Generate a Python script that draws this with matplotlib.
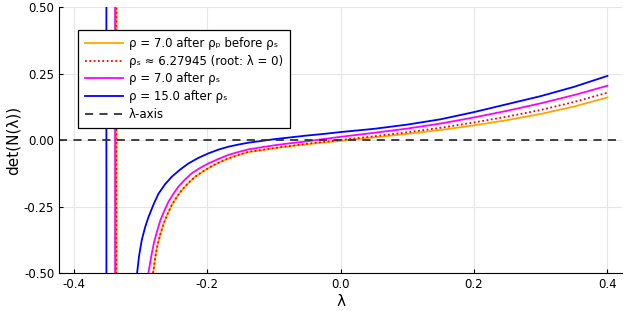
import matplotlib.pyplot as plt

# lambda values and det(N(lambda))
# values beyond +-0.5 are off screen (pole near the left)
lam_blue = [-0.42, -0.38, -0.352, -0.350, -0.33, -0.310, -0.305, -0.302, -0.298, -0.293, -0.288,
            -0.280, -0.273, -0.263, -0.253, -0.240, -0.228, -0.213, -0.198, -0.183,
            -0.168, -0.153, -0.138, -0.12, -0.10, -0.075, -0.05, -0.025, 0.0, 0.05,
            0.1, 0.15, 0.2, 0.25, 0.3, 0.35, 0.4]
det_blue = [3.0, 6.0, 40.0, -40.0, -2.0, -0.70, -0.50, -0.435, -0.376, -0.328, -0.290,
            -0.240, -0.202, -0.166, -0.138, -0.110, -0.088, -0.067, -0.050, -0.036,
            -0.025, -0.017, -0.010, -0.004, 0.003, 0.010, 0.017, 0.023, 0.030, 0.042,
            0.058, 0.078, 0.105, 0.135, 0.165, 0.200, 0.241]

lam_mag = [-0.42, -0.38, -0.339, -0.337, -0.31, -0.292, -0.288, -0.284, -0.280, -0.275,
           -0.270, -0.264, -0.258, -0.250, -0.243, -0.233, -0.223, -0.210, -0.198,
           -0.183, -0.168, -0.153, -0.138, -0.12, -0.10, -0.075, -0.05, -0.025, 0.0,
           0.05, 0.1, 0.15, 0.2, 0.25, 0.3, 0.35, 0.4]
det_mag = [3.0, 6.0, 40.0, -40.0, -2.0, -0.65, -0.50, -0.44, -0.389, -0.342,
           -0.301, -0.265, -0.232, -0.200, -0.175, -0.148, -0.125, -0.104, -0.088,
           -0.071, -0.056, -0.045, -0.035, -0.028, -0.020, -0.012, -0.005, 0.004, 0.012,
           0.027, 0.043, 0.062, 0.085, 0.110, 0.138, 0.169, 0.204]

lam_red = [-0.42, -0.38, -0.337, -0.335, -0.31, -0.285, -0.281, -0.278, -0.275, -0.270,
           -0.265, -0.259, -0.253, -0.245, -0.238, -0.228, -0.218, -0.205, -0.193,
           -0.180, -0.168, -0.153, -0.138, -0.12, -0.10, -0.075, -0.05, -0.025, 0.0,
           0.05, 0.1, 0.15, 0.2, 0.25, 0.3, 0.35, 0.4]
det_red = [3.0, 6.0, 40.0, -40.0, -2.0, -0.62, -0.50, -0.445, -0.401, -0.352,
           -0.313, -0.276, -0.244, -0.212, -0.188, -0.161, -0.138, -0.116, -0.098,
           -0.082, -0.069, -0.056, -0.044, -0.038, -0.030, -0.022, -0.014, -0.007, 0.0,
           0.014, 0.029, 0.046, 0.066, 0.088, 0.113, 0.143, 0.178]

lam_orange = lam_red
det_orange = [3.0, 6.0, 40.0, -40.0, -2.0, -0.62, -0.50, -0.445, -0.401, -0.352,
              -0.313, -0.276, -0.244, -0.212, -0.188, -0.161, -0.138, -0.116, -0.098,
              -0.082, -0.069, -0.056, -0.045, -0.039, -0.031, -0.023, -0.016, -0.009, -0.003,
              0.010, 0.023, 0.038, 0.055, 0.075, 0.098, 0.126, 0.160]

labels = ["ρ = 7.0 after ρₚ before ρₛ",
          "ρₛ ≈ 6.27945 (root: λ = 0)",
          "ρ = 7.0 after ρₛ",
          "ρ = 15.0 after ρₛ",
          "λ-axis"]

xticks = [-0.4, -0.2, 0.0, 0.2, 0.4]
yticks = [-0.50, -0.25, 0.00, 0.25, 0.50]

fig = plt.figure(figsize=(6.24, 3.11), dpi=100)
ax = fig.add_axes([0.0946, 0.122, 0.9024, 0.8555])

ax.plot(lam_orange, det_orange, color='orange', lw=1.3, label=labels[0])
ax.plot(lam_red, det_red, color='red', lw=1.3, ls=(0, (1, 1.4)), label=labels[1])
ax.plot(lam_mag, det_mag, color='magenta', lw=1.3, label=labels[2])
ax.plot(lam_blue, det_blue, color='blue', lw=1.3, label=labels[3])
ax.axhline(0, color='#333333', lw=1.3, ls=(0, (4.5, 3.5)), label=labels[4])

ax.set_xlim(-0.422, 0.422)
ax.set_ylim(-0.5, 0.5)
ax.set_xticks(xticks)
ax.set_xticklabels([f"{t:.1f}" for t in xticks])
ax.set_yticks(yticks)
ax.set_yticklabels([f"{t:.2f}" for t in yticks])
ax.tick_params(direction='in', length=3, labelsize=8.5, width=0.8)
ax.grid(True, color='#e6e6e6', lw=0.8)
ax.set_axisbelow(True)
for s in ['top', 'right']:
    ax.spines[s].set_visible(False)
ax.set_xlabel('λ', fontsize=11, labelpad=2)
ax.set_ylabel('det(N(λ))', fontsize=11, labelpad=2)

leg = ax.legend(loc='upper left', bbox_to_anchor=(0.034, 0.914), fontsize=8.5,
                borderaxespad=0, handlelength=3.2, frameon=True, fancybox=False,
                framealpha=1, borderpad=0.6, labelspacing=0.4, handletextpad=0.5)
leg.get_frame().set_edgecolor('black')
leg.get_frame().set_linewidth(0.9)

fig.savefig('out.png', dpi=100)
